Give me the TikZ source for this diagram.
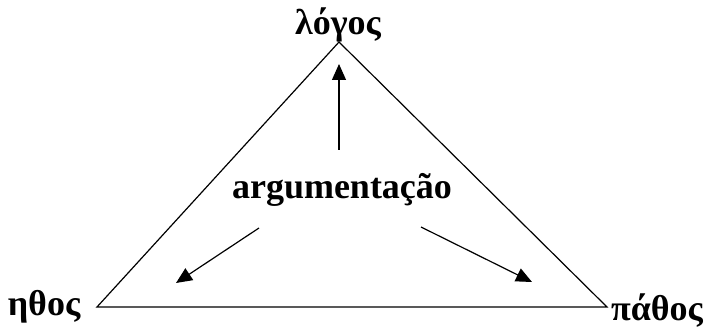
\documentclass[tikz,border=0pt]{standalone}
\usepackage{fontspec}
\setmainfont{Liberation Serif}
\usetikzlibrary{arrows.meta}
\tikzset{
  lbl/.style={font=\fontsize{36}{40}\selectfont\bfseries, inner sep=0pt, anchor=base},
  arr/.style={-{Triangle[length=16pt,width=14pt]}, line width=1.2pt}
}
\begin{document}
\begin{tikzpicture}[x=1pt,y=-1pt]
\useasboundingbox (0,0) rectangle (705,331);
\coordinate (top) at (339,42);
\coordinate (left) at (97,307);
\coordinate (right) at (607,307);
\draw[line width=1.2pt] (top)--(left)--(right)--cycle;
\node[lbl] (logos) at (338,35) {λόγος};
\node[lbl] (ethos) at (44,316) {ηθος};
\node[lbl] (pathos) at (657,321) {πάθος};
\node[lbl] (arg) at (342,199) {argumentação};
\coordinate (up) at (339,150);
\coordinate (upend) at (339,64);
\coordinate (sw) at (259,228);
\coordinate (swend) at (176,283);
\coordinate (se) at (421,227);
\coordinate (seend) at (532,282);
\draw[arr] (up)--(upend);
\draw[arr] (sw)--(swend);
\draw[arr] (se)--(seend);
\end{tikzpicture}
\end{document}
